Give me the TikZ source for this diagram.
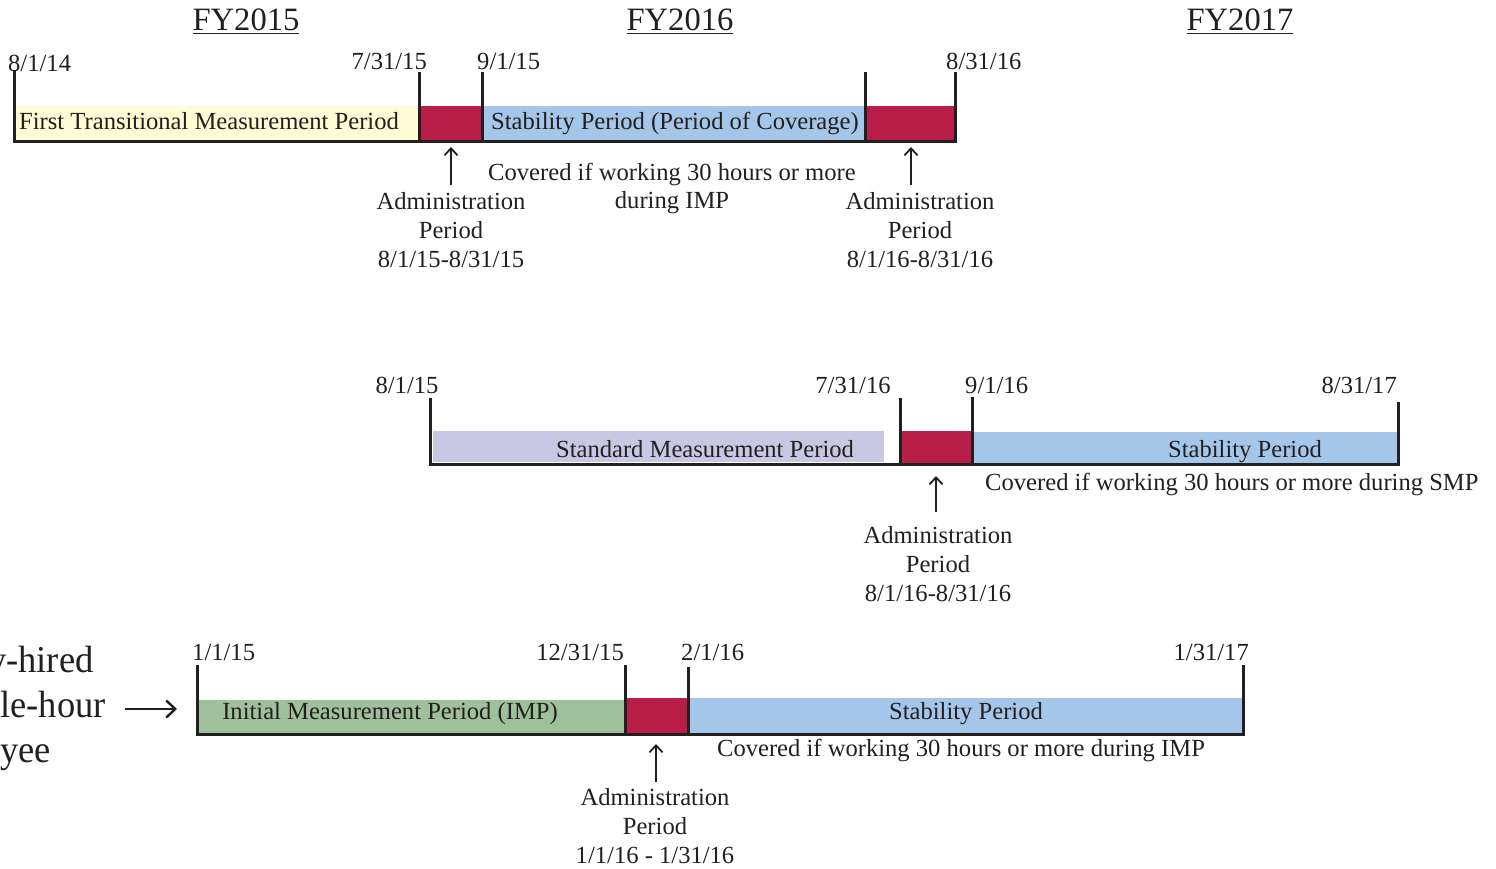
\documentclass[tikz,border=0pt]{standalone}
\usepackage{fontspec}
\setmainfont{Liberation Serif}
\usetikzlibrary{arrows.meta}
\definecolor{admred}{RGB}{185,30,72}
\definecolor{stabblue}{RGB}{164,198,232}
\definecolor{tmpyellow}{RGB}{255,251,213}
\definecolor{smplav}{RGB}{200,200,228}
\definecolor{impgreen}{RGB}{158,192,154}
\definecolor{ink}{RGB}{35,31,32}
\newcommand{\narrowline}[1]{\scalebox{0.96}[1]{#1}}
\begin{document}
\begin{tikzpicture}[x=1pt,y=-1pt,
  lbl/.style={font=\fontsize{24.6}{28.8}\selectfont, text=ink, inner sep=0pt, anchor=base},
  multi/.style={lbl, align=center},
  fylbl/.style={font=\fontsize{32.6}{36}\selectfont, text=ink, inner sep=0pt, anchor=base},
  tickline/.style={line width=3pt, ink},
  bottomline/.style={line width=3pt, ink},
  uparrow/.style={line width=1.8pt, ink, -{Straight Barb[length=7pt,width=13pt,line width=1.8pt]}},
  bigarrow/.style={line width=2.4pt, ink, -{Straight Barb[length=9pt,width=17pt,line width=2.4pt]}},
]
\useasboundingbox (0,0) rectangle (1496,869);

% ---------- headings ----------
\node[fylbl] (fy15) at (246,31) {\underline{FY2015}};
\node[fylbl] (fy16) at (680,31) {\underline{FY2016}};
\node[fylbl] (fy17) at (1240,31) {\underline{FY2017}};

% ---------- row 1 ----------
\fill[tmpyellow] (14,106) rectangle (419,141);
\fill[admred] (419,106) rectangle (482,141);
\fill[stabblue] (482,106) rectangle (865,141);
\fill[admred] (865,106) rectangle (955,141);
\draw[bottomline] (14,142) -- (955,142);
\foreach \x/\t in {14/70,419/72,482/72,865/72,955/72}
  \draw[tickline] (\x,\t) -- (\x,143.5);

\node[lbl, anchor=base west] (d1a) at (8,72) {8/1/14};
\node[lbl, anchor=base east] (d1b) at (427,70) {7/31/15};
\node[lbl, anchor=base west] (d1c) at (477,70) {9/1/15};
\node[lbl, anchor=base west] (d1d) at (946,70) {8/31/16};

\node[lbl, anchor=base west] (ftmp) at (19,130) {First Transitional Measurement Period};
\node[lbl, anchor=base west] (sp1) at (491,130) {Stability Period (Period of Coverage)};
\node[multi] (cov1) at (672,209) {Covered if working 30 hours or more\\during IMP};

\node[multi] (adm1) at (451,267) {Administration\\Period\\8/1/15-8/31/15};
\node[multi] (adm2) at (920,267) {Administration\\Period\\8/1/16-8/31/16};
\coordinate (t1) at (451,147);
\coordinate (t2) at (911,147);
\draw[uparrow] (451,185) -- (t1);
\draw[uparrow] (911,185) -- (t2);

% ---------- row 2 ----------
\fill[smplav] (433,431) rectangle (884,462);
\fill[admred] (900,431) rectangle (972,463);
\fill[stabblue] (972,432) rectangle (1398,463);
\draw[bottomline] (430,464) -- (1398,464);
\foreach \x/\t in {430/398,900/398,972/397,1398/402}
  \draw[tickline] (\x,\t) -- (\x,465.5);

\node[lbl] (d2a) at (407,393) {8/1/15};
\node[lbl] (d2b) at (853,393) {7/31/16};
\node[lbl, anchor=base west] (d2c) at (965,393) {9/1/16};
\node[lbl, anchor=base east] (d2d) at (1397,393) {8/31/17};

\node[lbl] (smp) at (705,457) {Standard Measurement Period};
\node[lbl] (sp2) at (1245,457) {Stability Period};
\node[lbl, anchor=base west] (cov2) at (985,490) {Covered if working 30 hours or more during SMP};

\node[multi] (adm3) at (938,601) {Administration\\Period\\8/1/16-8/31/16};
\coordinate (t3) at (936,476);
\draw[uparrow] (936,512) -- (t3);

% ---------- row 3 ----------
\node[font=\fontsize{38}{45}\selectfont, text=ink, inner sep=0pt, align=left, anchor=base west] (emp) at (-91,762)
  {\narrowline{Newly-hired}\\\narrowline{variable-hour}\\\narrowline{employee}};
\coordinate (e1) at (177,709);
\draw[bigarrow] (125,709) -- (e1);

\fill[impgreen] (197,700) rectangle (625,733);
\fill[admred] (625,698) rectangle (688,733);
\fill[stabblue] (688,698) rectangle (1243,733);
\draw[bottomline] (197,734) -- (1243,734);
\foreach \x/\t in {197/665,625/665,688/667,1243/665}
  \draw[tickline] (\x,\t) -- (\x,735.5);

\node[lbl, anchor=base west] (d3a) at (192,660) {1/1/15};
\node[lbl, anchor=base east] (d3b) at (624,660) {12/31/15};
\node[lbl, anchor=base west] (d3c) at (681,660) {2/1/16};
\node[lbl, anchor=base east] (d3d) at (1249,660) {1/31/17};

\node[lbl] (imp) at (390,719) {Initial Measurement Period (IMP)};
\node[lbl] (sp3) at (966,719) {Stability Period};
\node[lbl] (cov3) at (961,756) {Covered if working 30 hours or more during IMP};

\node[multi] (adm4) at (655,863) {Administration\\Period\\1/1/16 - 1/31/16};
\coordinate (t4) at (656,744);
\draw[uparrow] (656,782) -- (t4);
\end{tikzpicture}
\end{document}
